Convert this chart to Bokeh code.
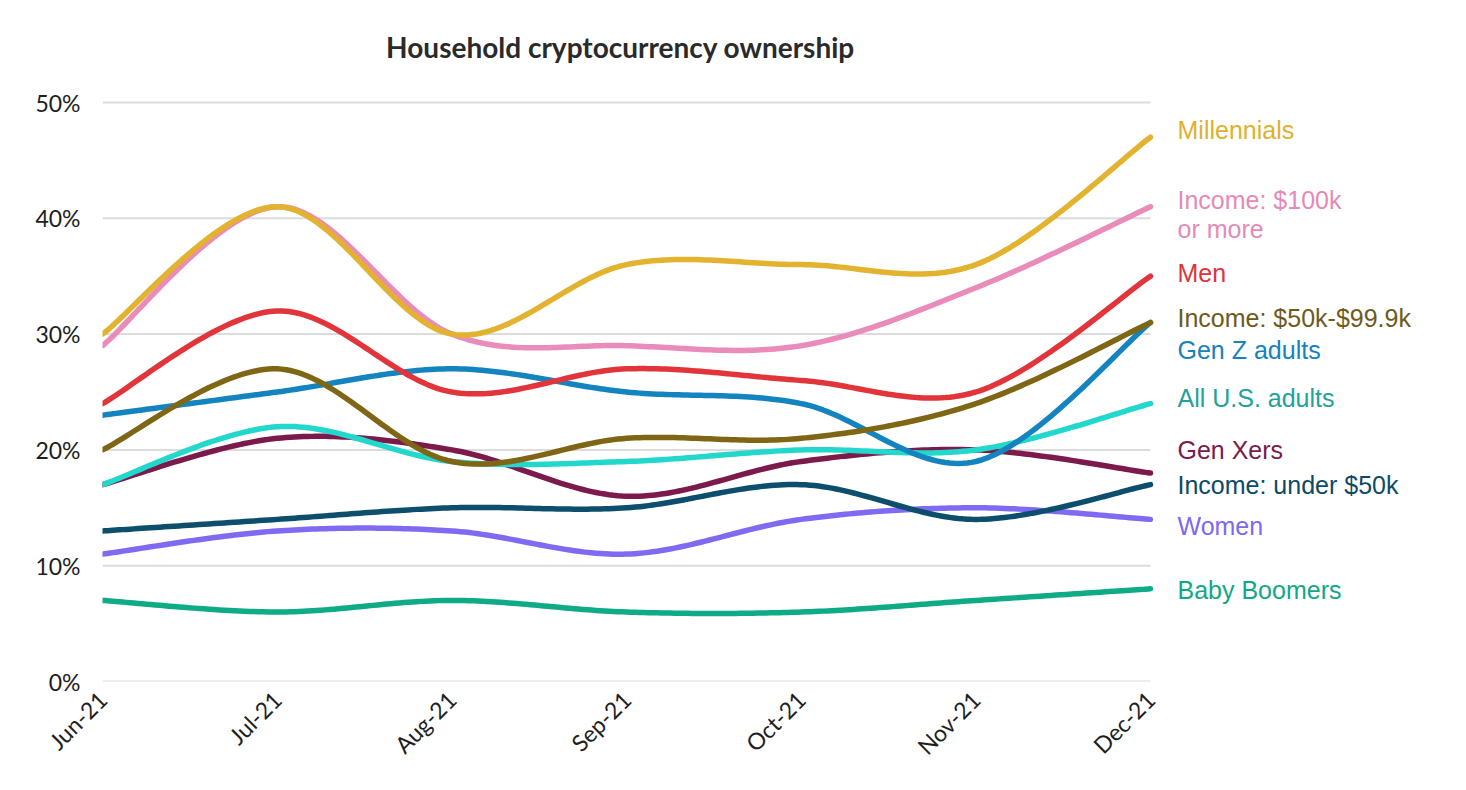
import numpy as np
from bokeh.plotting import figure
from bokeh.models import Range1d, FixedTicker
from bokeh.core.properties import value
from bokeh.embed import file_html
from bokeh.resources import INLINE

# ---------------- data ----------------
months = ["Jun-21", "Jul-21", "Aug-21", "Sep-21", "Oct-21", "Nov-21", "Dec-21"]
y_ticks = [0, 10, 20, 30, 40, 50]

baby_boomers = [7, 6, 7, 6, 6, 7, 8]
women = [11, 13, 13, 11, 14, 15, 14]
income_under_50k = [13, 14, 15, 15, 17, 14, 17]
gen_xers = [17, 21, 20, 16, 19, 20, 18]
all_us_adults = [17, 22, 19, 19, 20, 20, 24]
gen_z = [23, 25, 27, 25, 24, 19, 31]
income_50k_99k = [20, 27, 19, 21, 21, 24, 31]
men = [24, 32, 25, 27, 26, 25, 35]
income_100k = [29, 41, 30, 29, 29, 34, 41]
millennials = [30, 41, 30, 36, 36, 36, 47]

series = [
    # label lines, values, line colour, label colour, label y (layout)
    (["Baby Boomers"], baby_boomers, "#0EAB85", "#12A882", 7.9),
    (["Women"], women, "#806AF2", "#7E68EE", 13.4),
    (["Income: under $50k"], income_under_50k, "#0C4E6B", "#0C4A66", 17.0),
    (["Gen Xers"], gen_xers, "#7B1A4B", "#7B1A4B", 19.95),
    (["All U.S. adults"], all_us_adults, "#22D8CC", "#22A29B", 24.5),
    (["Gen Z adults"], gen_z, "#1484C0", "#1582BD", 28.6),
    (["Income: $50k-$99.9k"], income_50k_99k, "#7F6614", "#6E5A1C", 31.35),
    (["Men"], men, "#E2353B", "#E0333A", 35.25),
    (["Income: $100k", "or more"], income_100k, "#E98CB9", "#E58AB7", 40.3),
    (["Millennials"], millennials, "#E3B22E", "#E0B02E", 47.6),
]

# ---------------- layout (pixels) ----------------
W, H = 1450, 775
FRAME_L, FRAME_R = 102, 1440       # frame edges
FRAME_T, FRAME_B = 20, 681
X_FIRST, X_LAST = 102, 1150        # pixel of first / last month
Y_ZERO, Y_TOP = 681, 102           # pixel of 0% / 50%
TITLE_X, TITLE_Y = 620, 46


def catmull_rom(xs, ys, n=40):
    xs = np.asarray(xs, float)
    ys = np.asarray(ys, float)
    px = np.concatenate([[xs[0]], xs, [xs[-1]]])
    py = np.concatenate([[ys[0]], ys, [ys[-1]]])
    out_x, out_y = [], []
    for i in range(1, len(px) - 2):
        t = np.linspace(0, 1, n, endpoint=(i == len(px) - 3))
        t2, t3 = t * t, t * t * t
        for arr, out in ((px, out_x), (py, out_y)):
            p0, p1, p2, p3 = arr[i - 1], arr[i], arr[i + 1], arr[i + 2]
            out.extend(0.5 * ((2 * p1) + (-p0 + p2) * t
                              + (2 * p0 - 5 * p1 + 4 * p2 - p3) * t2
                              + (-p0 + 3 * p1 - 3 * p2 + p3) * t3))
    return out_x, out_y


x_idx = list(range(len(months)))
nlast = len(months) - 1
ppx = (X_LAST - X_FIRST) / nlast
ppy = (Y_ZERO - Y_TOP) / y_ticks[-1]
x_end = nlast + (FRAME_R - X_LAST) / ppx
y_end = y_ticks[-1] + (Y_TOP - FRAME_T) / ppy

p = figure(width=W, height=H, output_backend="svg", toolbar_location=None,
           x_range=Range1d(0, x_end), y_range=Range1d(0, y_end),
           min_border_left=FRAME_L, min_border_right=W - FRAME_R,
           min_border_top=FRAME_T, min_border_bottom=H - FRAME_B)
p.outline_line_color = None
p.background_fill_color = "white"
p.border_fill_color = "white"
p.xgrid.grid_line_color = None
p.ygrid.grid_line_color = None

# horizontal gridlines only across the data span
p.segment(x0=[0] * len(y_ticks), x1=[nlast] * len(y_ticks), y0=y_ticks, y1=y_ticks,
          line_color="#DCDCDC", line_width=2)

p.yaxis.ticker = FixedTicker(ticks=y_ticks)
p.yaxis.major_label_overrides = {t: f"{t}%" for t in y_ticks}
p.xaxis.ticker = FixedTicker(ticks=x_idx)
p.xaxis.major_label_overrides = {i: m for i, m in zip(x_idx, months)}
p.xaxis.major_label_orientation = np.pi / 4
for ax in (p.xaxis, p.yaxis):
    ax.axis_line_color = None
    ax.major_tick_line_color = None
    ax.minor_tick_line_color = None
    ax.major_label_text_font = "Lato"
    ax.major_label_text_font_size = "23px"
    ax.major_label_text_color = "#1E1E1E"
p.yaxis.major_label_standoff = 16
p.xaxis.major_label_standoff = 8

for names, vals, lc, tc, ly in series:
    sx, sy = catmull_rom(x_idx, vals)
    p.line(sx, sy, line_color=lc, line_width=5.5, line_cap="round", line_join="round")

for names, vals, lc, tc, ly in series:
    n = len(names)
    for k, nm in enumerate(names):
        off = (n - 1) * 14.5 - k * 29
        p.text(x=[nlast], y=[ly], text=[nm], x_offset=27, y_offset=-off,
               text_font=value("Liberation Sans"), text_font_size=value("25px"),
               text_color=tc, text_align="left", text_baseline="middle")

p.text(x=[(TITLE_X - X_FIRST) / ppx], y=[y_ticks[-1] + (Y_TOP - TITLE_Y) / ppy],
       text=["Household cryptocurrency ownership"],
       text_font=value("Lato"), text_font_style="bold", text_font_size=value("28px"),
       text_color="#2A2A2A", text_align="center", text_baseline="middle")

open("out.html", "w").write(file_html(p, INLINE))
